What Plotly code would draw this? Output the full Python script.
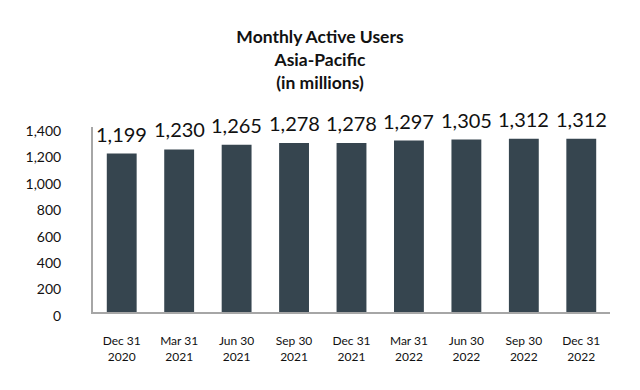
import plotly.graph_objects as go

categories = ["Dec 31<br>2020", "Mar 31<br>2021", "Jun 30<br>2021", "Sep 30<br>2021", "Dec 31<br>2021",
              "Mar 31<br>2022", "Jun 30<br>2022", "Sep 30<br>2022", "Dec 31<br>2022"]
values = [1199, 1230, 1265, 1278, 1278, 1297, 1305, 1312, 1312]
y_ticks = [0, 200, 400, 600, 800, 1000, 1200, 1400]

FONT = "Lato, 'Open Sans', sans-serif"

fig = go.Figure(go.Bar(
    x=categories, y=values,
    marker=dict(color="#36454f", line=dict(width=0)),
    width=0.52,
    cliponaxis=False,
    hoverinfo="skip",
))

for c, v in zip(categories, values):
    fig.add_annotation(x=c, y=v, text=f"{v:,}", showarrow=False,
                       xanchor="center", yanchor="bottom", yshift=6,
                       font=dict(size=20, color="#111111", family=FONT))

fig.update_layout(
    width=640, height=390,
    paper_bgcolor="white", plot_bgcolor="white",
    margin=dict(l=93, r=30, t=127, b=78, autoexpand=False),
    showlegend=False,
    font=dict(family=FONT, color="#111111"),
    title=dict(text="<b>Monthly Active Users<br>Asia-Pacific<br>(in millions)</b>",
               x=0.5, xanchor="center", y=0.889, yanchor="top",
               font=dict(size=17.5, family=FONT, color="#111111")),
)
fig.update_yaxes(range=[0, 1400], tickvals=y_ticks, tickformat=",d",
                 showgrid=False, zeroline=False, automargin=False,
                 showline=True, linecolor="#a6a6a6", linewidth=2,
                 ticks="", ticklabelstandoff=27, ticklabelshift=4,
                 tickfont=dict(size=14, family=FONT, color="#111111"))
fig.update_xaxes(showgrid=False, showline=True, linecolor="#a6a6a6", linewidth=2,
                 ticks="", ticklabelstandoff=17, automargin=False,
                 tickfont=dict(size=12, family=FONT, color="#111111"))

fig.write_html("out.html", config={"displayModeBar": False},
               post_script="document.body.style.margin='0px';document.body.style.padding='0px';")
